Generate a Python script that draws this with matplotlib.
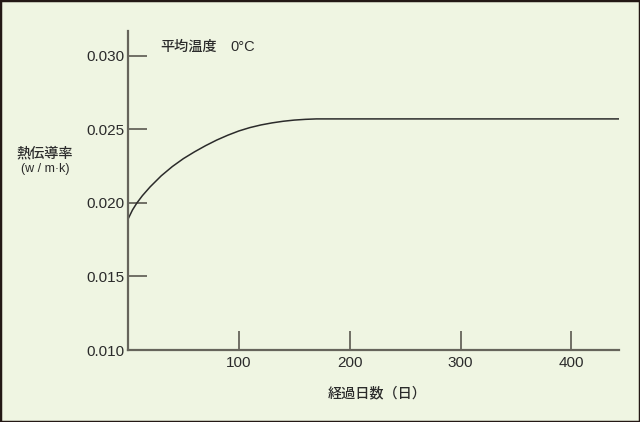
import matplotlib
matplotlib.use("Agg")
import matplotlib.pyplot as plt
from matplotlib.patches import Rectangle

# thermal conductivity vs elapsed days
days = [0, 4, 8, 13, 20, 30, 40, 50, 60, 70, 80, 90, 100, 110, 120,
        130, 140, 150, 160, 170, 443]
conductivity = [0.01890, 0.01952, 0.02000, 0.02050, 0.02110, 0.02185,
                0.02248, 0.02302, 0.02348, 0.02390, 0.02428, 0.02461,
                0.02490, 0.02513, 0.02531, 0.02545, 0.02556, 0.02564,
                0.02569, 0.02572, 0.02572]

x_ticks = [100, 200, 300, 400]
y_ticks = [0.010, 0.015, 0.020, 0.025, 0.030]
y_tick_labels = ["0.010", "0.015", "0.020", "0.025", "0.030"]

BG = "#eff5e2"
AXIS = "#66645b"
INK = "#2b2b2b"
NUM_FONT = ["Liberation Sans", "DejaVu Sans"]
JP_FONT = ["Noto Sans CJK JP", "DejaVu Sans"]

plt.rcParams["font.family"] = JP_FONT

fig = plt.figure(figsize=(6.4, 4.22), dpi=100, facecolor=BG)
ax = fig.add_axes([128 / 640, 1 - 350 / 422, (619 - 128) / 640, (350 - 31) / 422])
ax.set_facecolor(BG)

ax.plot(days, conductivity, color=INK, linewidth=1.1, solid_joinstyle="round")

ax.set_xlim(0, 443)
ax.set_ylim(0.010, 0.0317)
ax.set_xticks(x_ticks)
ax.set_xticklabels([str(v) for v in x_ticks], family=NUM_FONT, fontsize=11)
ax.set_yticks(y_ticks)
ax.set_yticklabels(y_tick_labels, family=NUM_FONT, fontsize=11)

for side in ["top", "right"]:
    ax.spines[side].set_visible(False)
for side in ["left", "bottom"]:
    ax.spines[side].set_color(AXIS)
    ax.spines[side].set_linewidth(1.6)

ax.tick_params(axis="both", direction="in", length=13.5, width=1.3,
               color=AXIS, labelcolor=INK)
ax.tick_params(axis="y", pad=2.5)
ax.tick_params(axis="x", pad=4)

# labels placed in figure pixels
fig.text(45 / 640, 1 - 153 / 422, "熱伝導率", ha="center", va="center",
         fontsize=10.2, color=INK, fontweight="medium")
fig.text(45 / 640, 1 - 169 / 422, "(w / m·k)", ha="center", va="center",
         fontsize=9, color=INK, family=NUM_FONT)
fig.text(160 / 640, 1 - 47 / 422, "平均温度", ha="left", va="center",
         fontsize=10.2, color=INK, fontweight="medium")
fig.text(230 / 640, 1 - 47 / 422, "0°C", ha="left", va="center",
         fontsize=10.5, color=INK, family=NUM_FONT)
fig.text(377 / 640, 1 - 393 / 422, "経過日数（日）", ha="center", va="center",
         fontsize=10.2, color=INK, fontweight="medium")

# dark frame around the whole picture
fig.patches.append(Rectangle((0, 0), 1, 1, transform=fig.transFigure,
                             fill=False, edgecolor="#231815", linewidth=2.5))

fig.savefig("out.png", dpi=100, facecolor=BG)
